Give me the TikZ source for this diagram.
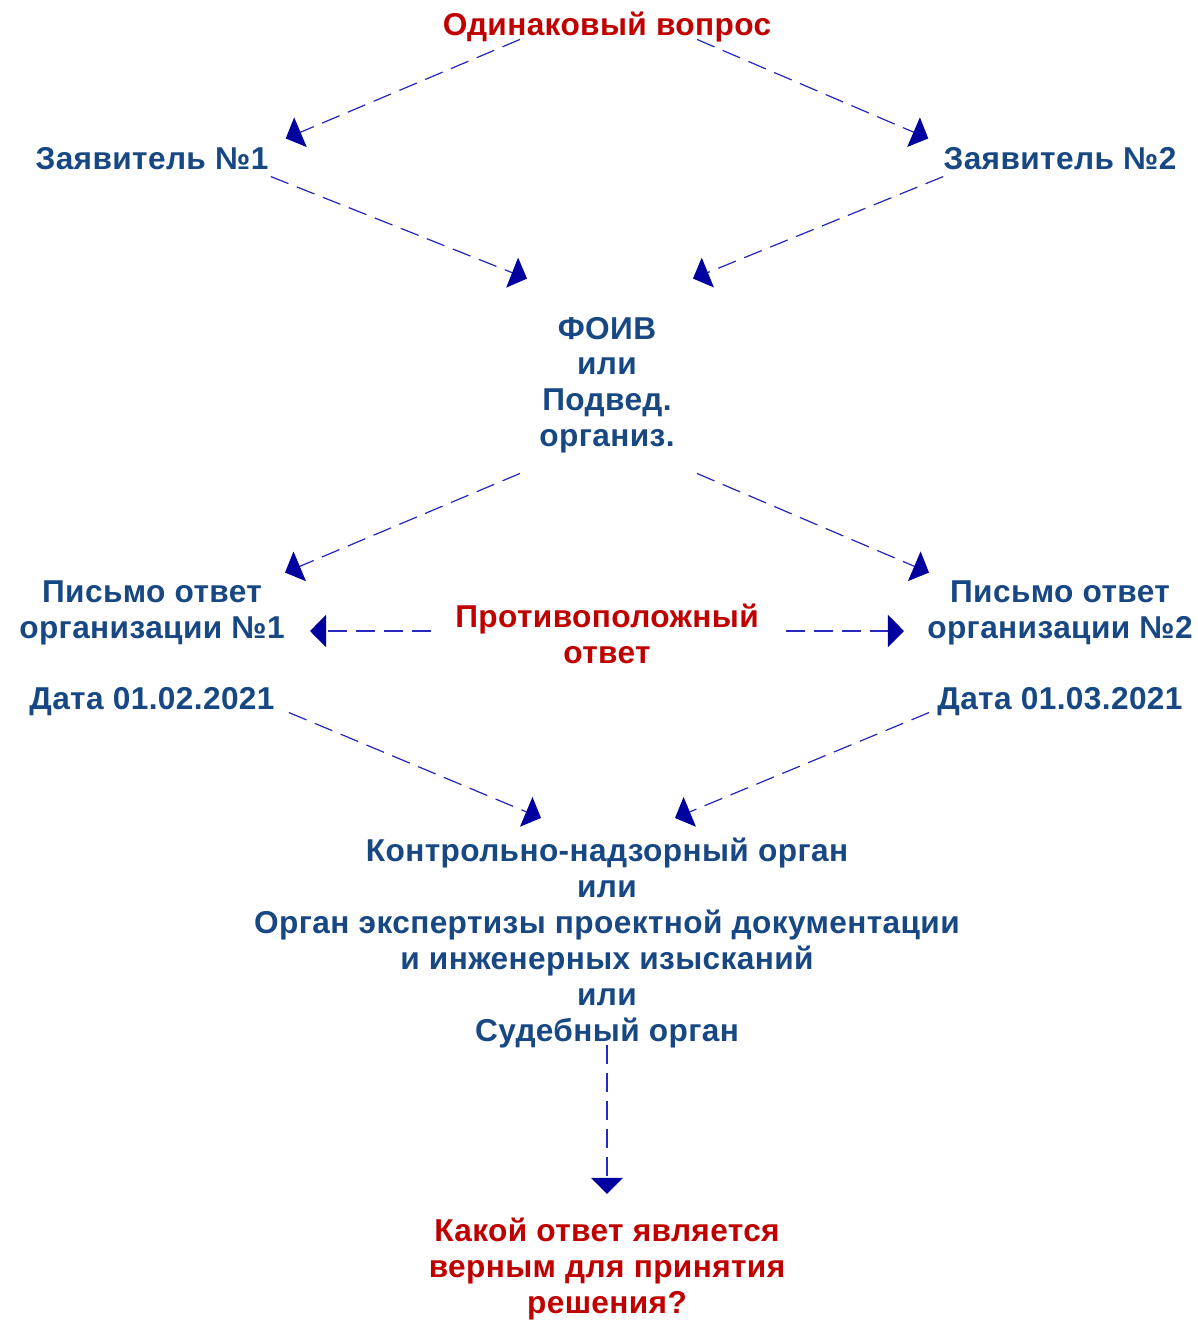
\documentclass[tikz,border=0pt]{standalone}
\usepackage{fontspec}
\setmainfont[LetterSpace=1.2]{Liberation Sans}
\usepackage{tikz}
\usetikzlibrary{arrows.meta, positioning, calc}
\usepackage{xcolor}
\definecolor{textblue}{RGB}{24, 72, 132}
\definecolor{textred}{RGB}{192, 0, 0}
\definecolor{linecol}{RGB}{40, 40, 190}
\definecolor{tipcol}{RGB}{0, 0, 160}
\tikzset{
    label/.style={inner sep=0pt, align=center, text=textblue, font=\fontsize{18pt}{20.4pt}\selectfont\bfseries},
    question/.style={label, text=textred},
    conn/.style={draw=linecol, line width=0.7pt, dash pattern=on 0.38cm off 0.18cm, -{Triangle[length=0.32cm, width=0.64cm, color=tipcol]}}
}
\begin{document}
\begin{tikzpicture}[x=0.02cm, y=-0.02cm]
        \useasboundingbox (0,0) rectangle (1198,1320);

        % Top question and applicants
        \node[question] (q) at (607, 27) {Одинаковый вопрос};
        \node[label] (z1) at (152, 159) {Заявитель №1};
        \node[label] (z2) at (1060, 159) {Заявитель №2};

        % Authority
        \node[label] (foiv) at (607, 385) {ФОИВ\\или\\Подвед.\\организ.};

        % Answers
        \node[label] (p1) at (152, 613) {Письмо ответ\\организации №1};
        \node[label] (d1) at (152, 702) {Дата 01.02.2021};
        \node[label] (p2) at (1060, 613) {Письмо ответ\\организации №2};
        \node[label] (d2) at (1060, 702) {Дата 01.03.2021};
        \node[question] (opp) at (607, 634) {Противоположный\\ответ};

        % Control bodies and final question
        \node[label] (org) at (607, 943) {Контрольно-надзорный орган\\или\\Орган экспертизы проектной документации\\и инженерных изысканий\\или\\Судебный орган};
        \node[question] (ans) at (607, 1269) {Какой ответ является\\верным для принятия\\решения?};

        % Connectors
        \draw[conn] ([shift={(-87,-3)}]q.south) -- ([shift={(17,-9)}]z1.north east);
        \draw[conn] ([shift={(90,-3)}]q.south) -- ([shift={(-15,-9)}]z2.north west);
        \draw[conn] ([shift={(2,6)}]z1.south east) -- ([shift={(-80,-38)}]foiv.north);
        \draw[conn] ([shift={(0,6)}]z2.south west) -- ([shift={(86,-38)}]foiv.north);
        \draw[conn] ([shift={(-87,20)}]foiv.south) -- ([shift={(0,-8)}]p1.north east);
        \draw[conn] ([shift={(90,20)}]foiv.south) -- ([shift={(2,-8)}]p2.north west);
        \draw[conn] ([shift={(-24,-3)}]opp.west) -- ([shift={(25,-3)}]opp.west -| p1.east);
        \draw[conn] ([shift={(27,-3)}]opp.east) -- ([shift={(-23,-3)}]opp.east -| p2.west);
        \draw[conn] ([shift={(14,-4)}]d1.south east) -- ([shift={(-66,-20)}]org.north);
        \draw[conn] ([shift={(-8,-4)}]d2.south west) -- ([shift={(68,-20)}]org.north);
        \draw[conn] ([shift={(0,-3)}]org.south) -- ([shift={(0,-24)}]ans.north);
    \end{tikzpicture}
\end{document}
